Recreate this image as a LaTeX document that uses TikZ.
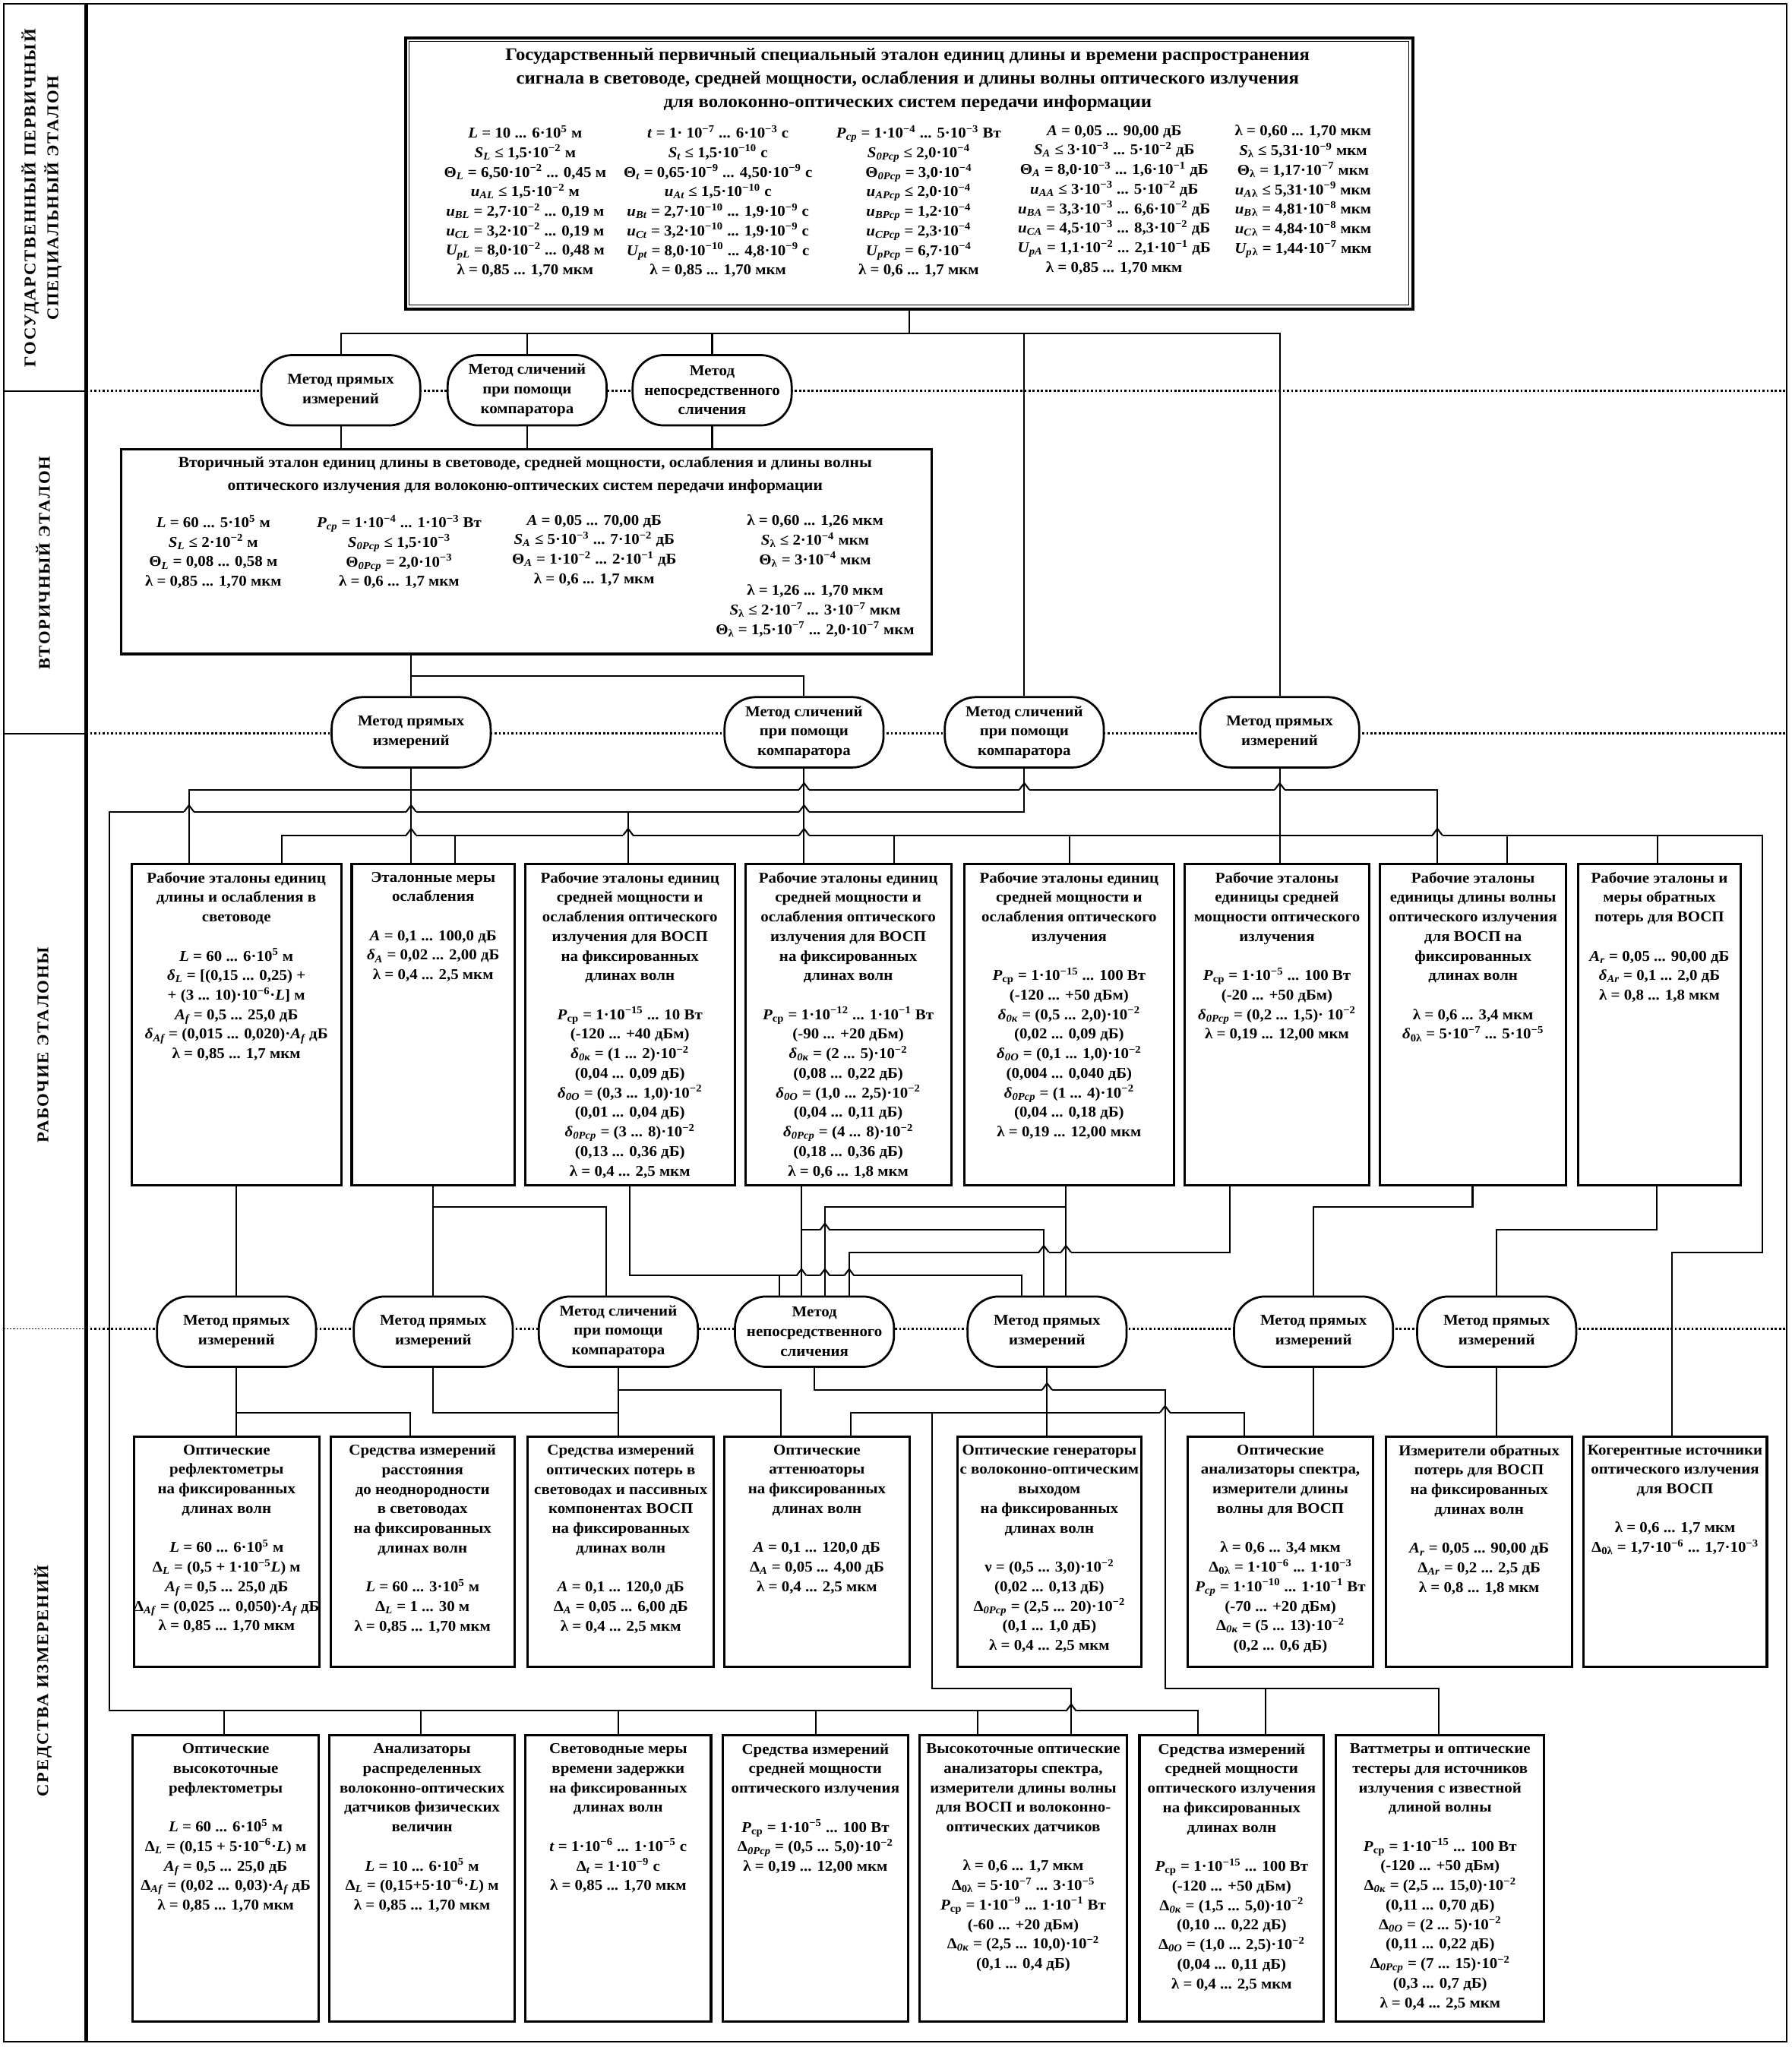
\documentclass[tikz,border=0pt]{standalone}
\usepackage{fontspec}
\setmainfont{Liberation Serif}[FakeStretch=1.06]
\usetikzlibrary{backgrounds}
\lineskiplimit=-30pt
\newcommand\Ex[1]{·10\textsuperscript{#1}}
\newcommand\It[1]{\textit{#1}}
\newcommand\Sb[1]{\textsubscript{#1}}
\newcommand\Bsz{\fontsize{11.5}{15}\selectfont\bfseries}
\newcommand\Tsz{\fontsize{13.6}{18}\selectfont\bfseries}
\newcommand\Ssz{\fontsize{11.8}{17.5}\selectfont\bfseries}
\newcommand\Lsz{\fontsize{12.5}{17.5}\selectfont\bfseries\addfontfeature{LetterSpace=8}}
\tikzset{
  conn/.style={line width=1.2pt},
  sbox/.style={draw, line width=1.8pt, fill=white, inner sep=0pt, anchor=north west},
  btxt/.style={anchor=north, align=center, inner sep=0pt, font=\Bsz},
  meth/.style={draw, line width=1.6pt, fill=white, rounded corners=24pt, minimum width=122pt,
    minimum height=54pt, inner sep=0pt, align=center, font=\Bsz},
  sect/.style={rotate=90, align=center, inner sep=0pt, font=\Lsz},
  dots/.style={line width=1.6pt, dash pattern=on 1.6pt off 1.6pt},
}
\newcommand\mkbox[6]{%
  \node[sbox, minimum width={(#3-#2)*1pt}, minimum height={(#5-#4)*1pt}] (#1) at (#2,#4) {};
  \node[btxt] (#1t) at ([yshift=-7pt]#1.north) {#6};
}
\newcommand\hop[2]{%
  \fill[white] (#1-3.8,#2-1.3) rectangle (#1+3.8,#2+1.3);
  \draw[conn] (#1,#2-1.6) -- (#1,#2+1.6);
  \draw[conn] (#1-3.8,#2) -- (#1,#2-5) -- (#1+3.8,#2);
}
\begin{document}
\begin{tikzpicture}[x=1pt,y=-1pt]
\useasboundingbox (0,0) rectangle (1375,1571);

% ---------- section labels ----------
\node[sect] (lab1) at (32,152) {ГОСУДАРСТВЕННЫЙ ПЕРВИЧНЫЙ\\СПЕЦИАЛЬНЫЙ ЭТАЛОН};
\node[sect] (lab2) at (33,432) {ВТОРИЧНЫЙ ЭТАЛОН};
\node[sect] (lab3) at (33,802) {РАБОЧИЕ ЭТАЛОНЫ};
\node[sect] (lab4) at (33,1290) {СРЕДСТВА ИЗМЕРЕНИЙ};

% ---------- primary standard ----------
\node[sbox, line width=2.2pt, minimum width=773pt, minimum height=208pt] (ps) at (310,28) {};
\draw[line width=0.6pt] ([shift={(4pt,-4pt)}]ps.north west) rectangle ([shift={(-4pt,4pt)}]ps.south east);
\node[anchor=north, align=center, inner sep=0pt, font=\Tsz] (pst) at (696.5,37)
 {Государственный первичный специальный эталон единиц длины и времени распространения\\
  сигнала в световоде, средней мощности, ослабления и длины волны оптического излучения\\
  для волоконно-оптических систем передачи информации};
\node[btxt] (psc1) at (403,96) {\It{L} = 10 ... 6\Ex{5} м\\
 \It{S\Sb{L}} ≤ 1,5\Ex{−2} м\\
 Θ\Sb{\It{L}} = 6,50\Ex{−2} ... 0,45 м\\
 \It{u\Sb{AL}} ≤ 1,5\Ex{−2} м\\
 \It{u\Sb{BL}} = 2,7\Ex{−2} ... 0,19 м\\
 \It{u\Sb{CL}} = 3,2\Ex{−2} ... 0,19 м\\
 \It{U\Sb{pL}} = 8,0\Ex{−2} ... 0,48 м\\
 λ = 0,85 ... 1,70 мкм};
\node[btxt] (psc2) at (551,96) {\It{t} = 1· 10\textsuperscript{−7} ... 6\Ex{−3} с\\
 \It{S\Sb{t}} ≤ 1,5\Ex{−10} с\\
 Θ\Sb{\It{t}} = 0,65\Ex{−9} ... 4,50\Ex{−9} с\\
 \It{u\Sb{At}} ≤ 1,5\Ex{−10} с\\
 \It{u\Sb{Bt}} = 2,7\Ex{−10} ... 1,9\Ex{−9} с\\
 \It{u\Sb{Ct}} = 3,2\Ex{−10} ... 1,9\Ex{−9} с\\
 \It{U\Sb{pt}} = 8,0\Ex{−10} ... 4,8\Ex{−9} с\\
 λ = 0,85 ... 1,70 мкм};
\node[btxt] (psc3) at (705,96) {\It{P\Sb{ср}} = 1\Ex{−4} ... 5\Ex{−3} Вт\\
 \It{S\Sb{0Pср}} ≤ 2,0\Ex{−4}\\
 Θ\Sb{\It{0Pср}} = 3,0\Ex{−4}\\
 \It{u\Sb{APср}} ≤ 2,0\Ex{−4}\\
 \It{u\Sb{BPср}} = 1,2\Ex{−4}\\
 \It{u\Sb{CPср}} = 2,3\Ex{−4}\\
 \It{U\Sb{pPср}} = 6,7\Ex{−4}\\
 λ = 0,6 ... 1,7 мкм};
\node[btxt] (psc4) at (855,96) {\It{A} = 0,05 ... 90,00 дБ\\
 \It{S\Sb{A}} ≤ 3\Ex{−3} ... 5\Ex{−2} дБ\\
 Θ\Sb{\It{A}} = 8,0\Ex{−3} ... 1,6\Ex{−1} дБ\\
 \It{u\Sb{AA}} ≤ 3\Ex{−3} ... 5\Ex{−2} дБ\\
 \It{u\Sb{BA}} = 3,3\Ex{−3} ... 6,6\Ex{−2} дБ\\
 \It{u\Sb{CA}} = 4,5\Ex{−3} ... 8,3\Ex{−2} дБ\\
 \It{U\Sb{pA}} = 1,1\Ex{−2} ... 2,1\Ex{−1} дБ\\
 λ = 0,85 ... 1,70 мкм};
\node[btxt] (psc5) at (1000,96) {λ = 0,60 ... 1,70 мкм\\
 \It{S}\Sb{λ} ≤ 5,31\Ex{−9} мкм\\
 Θ\Sb{λ} = 1,17\Ex{−7} мкм\\
 \It{u\Sb{A}}\Sb{λ} ≤ 5,31\Ex{−9} мкм\\
 \It{u\Sb{B}}\Sb{λ} = 4,81\Ex{−8} мкм\\
 \It{u\Sb{C}}\Sb{λ} = 4,84\Ex{−8} мкм\\
 \It{U\Sb{p}}\Sb{λ} = 1,44\Ex{−7} мкм};

% ---------- row 1 methods ----------
\node[meth] (m11) at (261.5,299.5) {Метод прямых\\измерений};
\node[meth] (m12) at (404.5,299.5) {Метод сличений\\при помощи\\компаратора};
\node[meth] (m13) at (546.5,299.5) {Метод\\непосредственного\\сличения};

% ---------- secondary standard ----------
\node[sbox, minimum width=622pt, minimum height=157pt] (vs) at (92,344) {};
\node[anchor=north, align=center, inner sep=0pt, font=\Ssz] (vst) at (403,350)
 {Вторичный эталон единиц длины в световоде, средней мощности, ослабления и длины волны\\
  оптического излучения для волоконю-оптических систем передачи информации};
\node[btxt] (vsc1) at (163.7,395) {\It{L} = 60 ... 5\Ex{5} м\\
 \It{S\Sb{L}} ≤ 2\Ex{−2} м\\
 Θ\Sb{\It{L}} = 0,08 ... 0,58 м\\
 λ = 0,85 ... 1,70 мкм};
\node[btxt] (vsc2) at (306.3,395) {\It{P\Sb{ср}} = 1\Ex{−4} ... 1\Ex{−3} Вт\\
 \It{S\Sb{0Pср}} ≤ 1,5\Ex{−3}\\
 Θ\Sb{\It{0Pср}} = 2,0\Ex{−3}\\
 λ = 0,6 ... 1,7 мкм};
\node[btxt] (vsc3) at (456,395) {\It{A} = 0,05 ... 70,00 дБ\\
 \It{S\Sb{A}} ≤ 5\Ex{−3} ... 7\Ex{−2} дБ\\
 Θ\Sb{\It{A}} = 1\Ex{−2} ... 2\Ex{−1} дБ\\
 λ = 0,6 ... 1,7 мкм};
\node[btxt] (vsc4) at (625.5,395) {λ = 0,60 ... 1,26 мкм\\
 \It{S}\Sb{λ} ≤ 2\Ex{−4} мкм\\
 Θ\Sb{λ} = 3\Ex{−4} мкм\\[8.6pt]
 λ = 1,26 ... 1,70 мкм\\
 \It{S}\Sb{λ} ≤ 2\Ex{−7} ... 3\Ex{−7} мкм\\
 Θ\Sb{λ} = 1,5\Ex{−7} ... 2,0\Ex{−7} мкм};

% ---------- row 2 methods ----------
\node[meth] (m21) at (315.5,562) {Метод прямых\\измерений};
\node[meth] (m22) at (617,562) {Метод сличений\\при помощи\\компаратора};
\node[meth] (m23) at (786,562) {Метод сличений\\при помощи\\компаратора};
\node[meth] (m24) at (982,562) {Метод прямых\\измерений};

% ---------- row 3: working standards ----------
\mkbox{r31}{100}{261}{662}{909}{Рабочие эталоны единиц\\длины и ослабления в\\световоде\\[15pt]
 \It{L} = 60 ... 6\Ex{5} м\\
 \It{δ\Sb{L}} = [(0,15 ... 0,25) +\\
 + (3 ... 10)\Ex{−6}·\It{L}] м\\
 \It{A\Sb{f}} = 0,5 ... 25,0 дБ\\
 \It{δ\Sb{Af}} = (0,015 ... 0,020)·\It{A\Sb{f}} дБ\\
 λ = 0,85 ... 1,7 мкм}
\mkbox{r32}{269}{394}{662}{909}{Эталонные меры\\ослабления\\[15pt]
 \It{A} = 0,1 ... 100,0 дБ\\
 \It{δ\Sb{A}} = 0,02 ... 2,00 дБ\\
 λ = 0,4 ... 2,5 мкм}
\mkbox{r33}{402}{563}{662}{909}{Рабочие эталоны единиц\\средней мощности и\\ослабления оптического\\излучения для ВОСП\\на фиксированных\\длинах волн\\[15pt]
 \It{P}\Sb{ср} = 1\Ex{−15} ... 10 Вт\\
 (-120 ... +40 дБм)\\
 \It{δ\Sb{0к}} = (1 ... 2)\Ex{−2}\\
 (0,04 ... 0,09 дБ)\\
 \It{δ\Sb{0O}} = (0,3 ... 1,0)\Ex{−2}\\
 (0,01 ... 0,04 дБ)\\
 \It{δ\Sb{0Pср}} = (3 ... 8)\Ex{−2}\\
 (0,13 ... 0,36 дБ)\\
 λ = 0,4 ... 2,5 мкм}
\mkbox{r34}{571}{729}{662}{909}{Рабочие эталоны единиц\\средней мощности и\\ослабления оптического\\излучения для ВОСП\\на фиксированных\\длинах волн\\[15pt]
 \It{P}\Sb{ср} = 1\Ex{−12} ... 1\Ex{−1} Вт\\
 (-90 ... +20 дБм)\\
 \It{δ\Sb{0к}} = (2 ... 5)\Ex{−2}\\
 (0,08 ... 0,22 дБ)\\
 \It{δ\Sb{0O}} = (1,0 ... 2,5)\Ex{−2}\\
 (0,04 ... 0,11 дБ)\\
 \It{δ\Sb{0Pср}} = (4 ... 8)\Ex{−2}\\
 (0,18 ... 0,36 дБ)\\
 λ = 0,6 ... 1,8 мкм}
\mkbox{r35}{739}{900}{662}{909}{Рабочие эталоны единиц\\средней мощности и\\ослабления оптического\\излучения\\[15pt]
 \It{P}\Sb{ср} = 1\Ex{−15} ... 100 Вт\\
 (-120 ... +50 дБм)\\
 \It{δ\Sb{0к}} = (0,5 ... 2,0)\Ex{−2}\\
 (0,02 ... 0,09 дБ)\\
 \It{δ\Sb{0O}} = (0,1 ... 1,0)\Ex{−2}\\
 (0,004 ... 0,040 дБ)\\
 \It{δ\Sb{0Pср}} = (1 ... 4)\Ex{−2}\\
 (0,04 ... 0,18 дБ)\\
 λ = 0,19 ... 12,00 мкм}
\mkbox{r36}{908}{1050}{662}{909}{Рабочие эталоны\\единицы средней\\мощности оптического\\излучения\\[15pt]
 \It{P}\Sb{ср} = 1\Ex{−5} ... 100 Вт\\
 (-20 ... +50 дБм)\\
 \It{δ\Sb{0Pср}} = (0,2 ... 1,5)· 10\textsuperscript{−2}\\
 λ = 0,19 ... 12,00 мкм}
\mkbox{r37}{1058}{1201}{662}{909}{Рабочие эталоны\\единицы длины волны\\оптического излучения\\для ВОСП на\\фиксированных\\длинах волн\\[15pt]
 λ = 0,6 ... 3,4 мкм\\
 \It{δ}\Sb{0λ} = 5\Ex{−7} ... 5\Ex{−5}}
\mkbox{r38}{1210}{1335}{662}{909}{Рабочие эталоны и\\меры обратных\\потерь для ВОСП\\[15pt]
 \It{A\Sb{r}} = 0,05 ... 90,00 дБ\\
 \It{δ\Sb{Ar}} = 0,1 ... 2,0 дБ\\
 λ = 0,8 ... 1,8 мкм}

% ---------- row 4 methods ----------
\node[meth] (m41) at (181.5,1022) {Метод прямых\\измерений};
\node[meth] (m42) at (332.5,1022) {Метод прямых\\измерений};
\node[meth] (m43) at (474.5,1022) {Метод сличений\\при помощи\\компаратора};
\node[meth] (m44) at (625,1022) {Метод\\непосредственного\\сличения};
\node[meth] (m45) at (803.5,1022) {Метод прямых\\измерений};
\node[meth] (m46) at (1008,1022) {Метод прямых\\измерений};
\node[meth] (m47) at (1148.5,1022) {Метод прямых\\измерений};

% ---------- row 5: measuring instruments ----------
\mkbox{r51}{102}{244}{1101.6}{1278.4}{Оптические\\рефлектометры\\на фиксированных\\длинах волн\\[15pt]
 \It{L} = 60 ... 6\Ex{5} м\\
 Δ\Sb{\It{L}} = (0,5 + 1\Ex{−5}\It{L}) м\\
 \It{A\Sb{f}} = 0,5 ... 25,0 дБ\\
 Δ\Sb{\It{Af}} = (0,025 ... 0,050)·\It{A\Sb{f}} дБ\\
 λ = 0,85 ... 1,70 мкм}
\mkbox{r52}{252.7}{394}{1101.6}{1278.4}{Средства измерений\\расстояния\\до неоднородности\\в световодах\\на фиксированных\\длинах волн\\[15pt]
 \It{L} = 60 ... 3\Ex{5} м\\
 Δ\Sb{\It{L}} = 1 ... 30 м\\
 λ = 0,85 ... 1,70 мкм}
\mkbox{r53}{404}{547}{1101.6}{1278.4}{Средства измерений\\оптических потерь в\\световодах и пассивных\\компонентах ВОСП\\на фиксированных\\длинах волн\\[15pt]
 \It{A} = 0,1 ... 120,0 дБ\\
 Δ\Sb{\It{A}} = 0,05 ... 6,00 дБ\\
 λ = 0,4 ... 2,5 мкм}
\mkbox{r54}{555}{697}{1101.6}{1278.4}{Оптические\\аттенюаторы\\на фиксированных\\длинах волн\\[15pt]
 \It{A} = 0,1 ... 120,0 дБ\\
 Δ\Sb{\It{A}} = 0,05 ... 4,00 дБ\\
 λ = 0,4 ... 2,5 мкм}
\mkbox{r55}{733.7}{875}{1101.6}{1278.4}{Оптические генераторы\\с волоконно-оптическим\\выходом\\на фиксированных\\длинах волн\\[15pt]
 ν = (0,5 ... 3,0)\Ex{−2}\\
 (0,02 ... 0,13 дБ)\\
 Δ\Sb{\It{0Pср}} = (2,5 ... 20)\Ex{−2}\\
 (0,1 ... 1,0 дБ)\\
 λ = 0,4 ... 2,5 мкм}
\mkbox{r56}{910.6}{1052.7}{1101.6}{1278.4}{Оптические\\анализаторы спектра,\\измерители длины\\волны для ВОСП\\[15pt]
 λ = 0,6 ... 3,4 мкм\\
 Δ\Sb{0λ} = 1\Ex{−6} ... 1\Ex{−3}\\
 \It{P\Sb{ср}} = 1\Ex{−10} ... 1\Ex{−1} Вт\\
 (-70 ... +20 дБм)\\
 Δ\Sb{\It{0к}} = (5 ... 13)\Ex{−2}\\
 (0,2 ... 0,6 дБ)}
\mkbox{r57}{1062.7}{1205.6}{1101.6}{1278.4}{Измерители обратных\\потерь для ВОСП\\на фиксированных\\длинах волн\\[15pt]
 \It{A\Sb{r}} = 0,05 ... 90,00 дБ\\
 Δ\Sb{\It{Ar}} = 0,2 ... 2,5 дБ\\
 λ = 0,8 ... 1,8 мкм}
\mkbox{r58}{1214}{1355}{1101.6}{1278.4}{Когерентные источники\\оптического излучения\\для ВОСП\\[15pt]
 λ = 0,6 ... 1,7 мкм\\
 Δ\Sb{0λ} = 1,7\Ex{−6} ... 1,7\Ex{−3}}

% ---------- row 6 ----------
\mkbox{r61}{101}{243.6}{1331}{1550.5}{Оптические\\высокоточные\\рефлектометры\\[15pt]
 \It{L} = 60 ... 6\Ex{5} м\\
 Δ\Sb{\It{L}} = (0,15 + 5\Ex{−6}·\It{L}) м\\
 \It{A\Sb{f}} = 0,5 ... 25,0 дБ\\
 Δ\Sb{\It{Af}} = (0,02 ... 0,03)·\It{A\Sb{f}} дБ\\
 λ = 0,85 ... 1,70 мкм}
\mkbox{r62}{252}{394}{1331}{1550.5}{Анализаторы\\распределенных\\волоконно-оптических\\датчиков физических\\величин\\[15pt]
 \It{L} = 10 ... 6\Ex{5} м\\
 Δ\Sb{\It{L}} = (0,15+5\Ex{−6}·\It{L}) м\\
 λ = 0,85 ... 1,70 мкм}
\mkbox{r63}{402.3}{544.7}{1331}{1550.5}{Световодные меры\\времени задержки\\на фиксированных\\длинах волн\\[15pt]
 \It{t} = 1\Ex{−6} ... 1\Ex{−5} с\\
 Δ\Sb{\It{t}} = 1\Ex{−9} с\\
 λ = 0,85 ... 1,70 мкм}
\mkbox{r64}{553.6}{696}{1331}{1550.5}{Средства измерений\\средней мощности\\оптического излучения\\[15pt]
 \It{P}\Sb{ср} = 1\Ex{−5} ... 100 Вт\\
 Δ\Sb{\It{0Pср}} = (0,5 ... 5,0)\Ex{−2}\\
 λ = 0,19 ... 12,00 мкм}
\mkbox{r65}{704.6}{864}{1331}{1550.5}{Высокоточные оптические\\анализаторы спектра,\\измерители длины волны\\для ВОСП и волоконно-\\оптических датчиков\\[15pt]
 λ = 0,6 ... 1,7 мкм\\
 Δ\Sb{0λ} = 5\Ex{−7} ... 3\Ex{−5}\\
 \It{P}\Sb{ср} = 1\Ex{−9} ... 1\Ex{−1} Вт\\
 (-60 ... +20 дБм)\\
 Δ\Sb{\It{0к}} = (2,5 ... 10,0)\Ex{−2}\\
 (0,1 ... 0,4 дБ)}
\mkbox{r66}{873.5}{1015}{1331}{1550.5}{Средства измерений\\средней мощности\\оптического излучения\\на фиксированных\\длинах волн\\[15pt]
 \It{P}\Sb{ср} = 1\Ex{−15} ... 100 Вт\\
 (-120 ... +50 дБм)\\
 Δ\Sb{\It{0к}} = (1,5 ... 5,0)\Ex{−2}\\
 (0,10 ... 0,22 дБ)\\
 Δ\Sb{\It{0O}} = (1,0 ... 2,5)\Ex{−2}\\
 (0,04 ... 0,11 дБ)\\
 λ = 0,4 ... 2,5 мкм}
\mkbox{r67}{1024.4}{1184}{1331}{1550.5}{Ваттметры и оптические\\тестеры для источников\\излучения с известной\\длиной волны\\[15pt]
 \It{P}\Sb{ср} = 1\Ex{−15} ... 100 Вт\\
 (-120 ... +50 дБм)\\
 Δ\Sb{\It{0к}} = (2,5 ... 15,0)\Ex{−2}\\
 (0,11 ... 0,70 дБ)\\
 Δ\Sb{\It{0O}} = (2 ... 5)\Ex{−2}\\
 (0,11 ... 0,22 дБ)\\
 Δ\Sb{\It{0Pср}} = (7 ... 15)\Ex{−2}\\
 (0,3 ... 0,7 дБ)\\
 λ = 0,4 ... 2,5 мкм}

% ---------- background: frame, dotted lines, connectors ----------
\begin{pgfonlayer}{background}
\fill[white] (0,0) rectangle (1375,1571);
\draw[line width=1.3pt] (3,3) rectangle (1371,1567);
\draw[line width=3pt] (66,3) -- (66,1567);
\draw[line width=1.3pt] (3,300) -- (66,300);
\draw[line width=1.3pt] (3,563) -- (66,563);
\draw[line width=0.8pt, dash pattern=on 1.2pt off 1.2pt] (3,1020) -- (66,1020);
\draw[dots] (66,300) -- (1371,300);
\draw[dots] (66,563) -- (1371,563);
\draw[dots] (66,1020) -- (1371,1020);

% level coordinates
\coordinate (yt) at (0,256);
\coordinate (yv) at (0,519);
\coordinate (yb1) at (0,606);
\coordinate (yb2) at (0,623);
\coordinate (yb3) at (0,641);
\coordinate (yc1) at (0,926);
\coordinate (yc2) at (0,944);
\coordinate (yc3) at (0,961);
\coordinate (yc4) at (0,979);
\coordinate (yd1) at (0,1066.6);
\coordinate (yd2) at (0,1084);
\coordinate (ye1) at (0,1296);
\coordinate (ye2) at (0,1313);
% x coordinates
\coordinate (xA1) at (145,0);   \coordinate (xA2) at (1103,0);
\coordinate (xL) at (84,0);     \coordinate (xB1) at (482,0);
\coordinate (xD1) at (216,0);   \coordinate (xD2) at (349,0);
\coordinate (xD3) at (686,0);   \coordinate (xD4) at (821,0);
\coordinate (xD5) at (1156.5,0);\coordinate (xD6) at (1272,0);
\coordinate (xR) at (1352.6,0); \coordinate (xR2) at (1283,0);
\coordinate (xF1) at (465,0);
\coordinate (xG) at (483,0);    \coordinate (xG2) at (784,0);  \coordinate (xG3) at (598,0);
\coordinate (xH) at (615,0);    \coordinate (xH2) at (801,0);
\coordinate (xI) at (818,0);    \coordinate (xI2) at (633,0);
\coordinate (xJ) at (943.6,0);  \coordinate (xJ2) at (651.6,0);
\coordinate (xK) at (1130,0);   \coordinate (xM) at (1271.6,0);
\coordinate (xN) at (315,0);    \coordinate (xP) at (599,0);
\coordinate (xQ) at (894,0);    \coordinate (xQ2) at (971,0);  \coordinate (xQ3) at (1104,0);
\coordinate (xS1) at (653,0);   \coordinate (xS2) at (955,0);
\coordinate (xT) at (715,0);    \coordinate (xT2) at (822,0);
\coordinate (xC1) at (172,0);   \coordinate (xC2) at (323,0);  \coordinate (xC3) at (474.5,0);
\coordinate (xC4) at (626,0);   \coordinate (xC5) at (750,0);  \coordinate (xC6) at (919,0);

% primary -> row 1 / row 2
\draw[conn] (ps.south) -- (ps.south |- yt);
\draw[conn] (m11.north) |- (m24.north |- yt) -- (m24.north);
\draw[conn] (m12.north |- yt) -- (m12.north);
\draw[conn] (m13.north |- yt) -- (m13.north);
\draw[conn] (m23.north |- yt) -- (m23.north);
% row 1 -> secondary
\draw[conn] (m11.south) -- (m11.south |- vs.north);
\draw[conn] (m12.south) -- (m12.south |- vs.north);
\draw[conn] (m13.south) -- (m13.south |- vs.north);
% secondary -> row 2
\draw[conn] (m21.north |- vs.south) -- (m21.north);
\draw[conn] (m21.north |- yv) -| (m22.north);
% row 2 -> row 3
\draw[conn] (xA1 |- r31.north) |- (xA2 |- yb1) -- (xA2 |- r37.north);
\draw[conn] (m21.south) -- (m21.south |- r32.north);
\draw[conn] (m22.south) -- (m22.south |- r34.north);
\draw[conn] (m23.south) |- (xL |- yb2) -- (xL |- ye2) -| (xC6 |- r66.north);
\draw[conn] (xB1 |- yb2) -- (xB1 |- r33.north);
\draw[conn] (m24.south) -- (m24.south |- r36.north);
\draw[conn] (xD1 |- r31.north) |- (xR |- yb3) -- (xR |- yc3) -| (xR2 |- r58.north);
\draw[conn] (xD2 |- yb3) -- (xD2 |- r32.north);
\draw[conn] (xD3 |- yb3) -- (xD3 |- r34.north);
\draw[conn] (xD4 |- yb3) -- (xD4 |- r35.north);
\draw[conn] (xD5 |- yb3) -- (xD5 |- r37.north);
\draw[conn] (xD6 |- yb3) -- (xD6 |- r38.north);
% row 3 -> row 4
\draw[conn] (m41.north |- r31.south) -- (m41.north);
\draw[conn] (m42.north |- r32.south) -- (m42.north);
\draw[conn] (m42.north |- yc1) -| (xF1 |- m43.north);
\draw[conn] (xG |- r33.south) |- (xG2 |- yc4) -- (xG2 |- m45.north);
\draw[conn] (xG3 |- yc4) -- (xG3 |- m44.north);
\draw[conn] (xH |- r34.south) -- (xH |- m44.north);
\draw[conn] (xH |- yc2) -| (xH2 |- m45.north);
\draw[conn] (xI |- r35.south) -- (xI |- m45.north);
\draw[conn] (xI |- yc1) -| (xI2 |- m44.north);
\draw[conn] (xJ |- r36.south) |- (xJ2 |- yc3) -- (xJ2 |- m44.north);
\draw[conn] (xK |- r37.south) |- (m46.north |- yc1) -- (m46.north);
\draw[conn] (xM |- r38.south) |- (m47.north |- yc2) -- (m47.north);
% row 4 -> row 5 / row 6
\draw[conn] (m41.south) -- (m41.south |- r51.north);
\draw[conn] (m41.south |- yd2) -| (xN |- r52.north);
\draw[conn] (m42.south) |- (m43.south |- yd2);
\draw[conn] (m43.south) -- (m43.south |- r53.north);
\draw[conn] (m43.south |- yd1) -| (xP |- r54.north);
\draw[conn] (m44.south) |- (xQ |- yd1) -- (xQ |- ye1) -| (xQ3 |- r67.north);
\draw[conn] (xQ2 |- ye1) -- (xQ2 |- r66.north);
\draw[conn] (m45.south) -- (m45.south |- r55.north);
\draw[conn] (xS1 |- r54.north) |- (xS2 |- yd2) -- (xS2 |- r56.north);
\draw[conn] (xT |- yd2) -- (xT |- ye1) -| (xT2 |- r65.north);
\draw[conn] (m46.south) -- (m46.south |- r56.north);
\draw[conn] (m47.south) -- (m47.south |- r57.north);
\draw[conn] (xC1 |- ye2) -- (xC1 |- r61.north);
\draw[conn] (xC2 |- ye2) -- (xC2 |- r62.north);
\draw[conn] (xC3 |- ye2) -- (xC3 |- r63.north);
\draw[conn] (xC4 |- ye2) -- (xC4 |- r64.north);
\draw[conn] (xC5 |- ye2) -- (xC5 |- r65.north);

% line hops
\hop{617}{606} \hop{786}{606} \hop{982}{606}
\hop{145}{623} \hop{315.5}{623} \hop{617}{623}
\hop{315.5}{641} \hop{482}{641} \hop{617}{641} \hop{1103}{641}
\hop{633}{944}
\hop{801}{961} \hop{818}{961}
\hop{615}{979} \hop{633}{979} \hop{651.6}{979}
\hop{803.5}{1066.6}
\hop{894}{1084}
\hop{822}{1313}
\end{pgfonlayer}
\end{tikzpicture}
\end{document}
